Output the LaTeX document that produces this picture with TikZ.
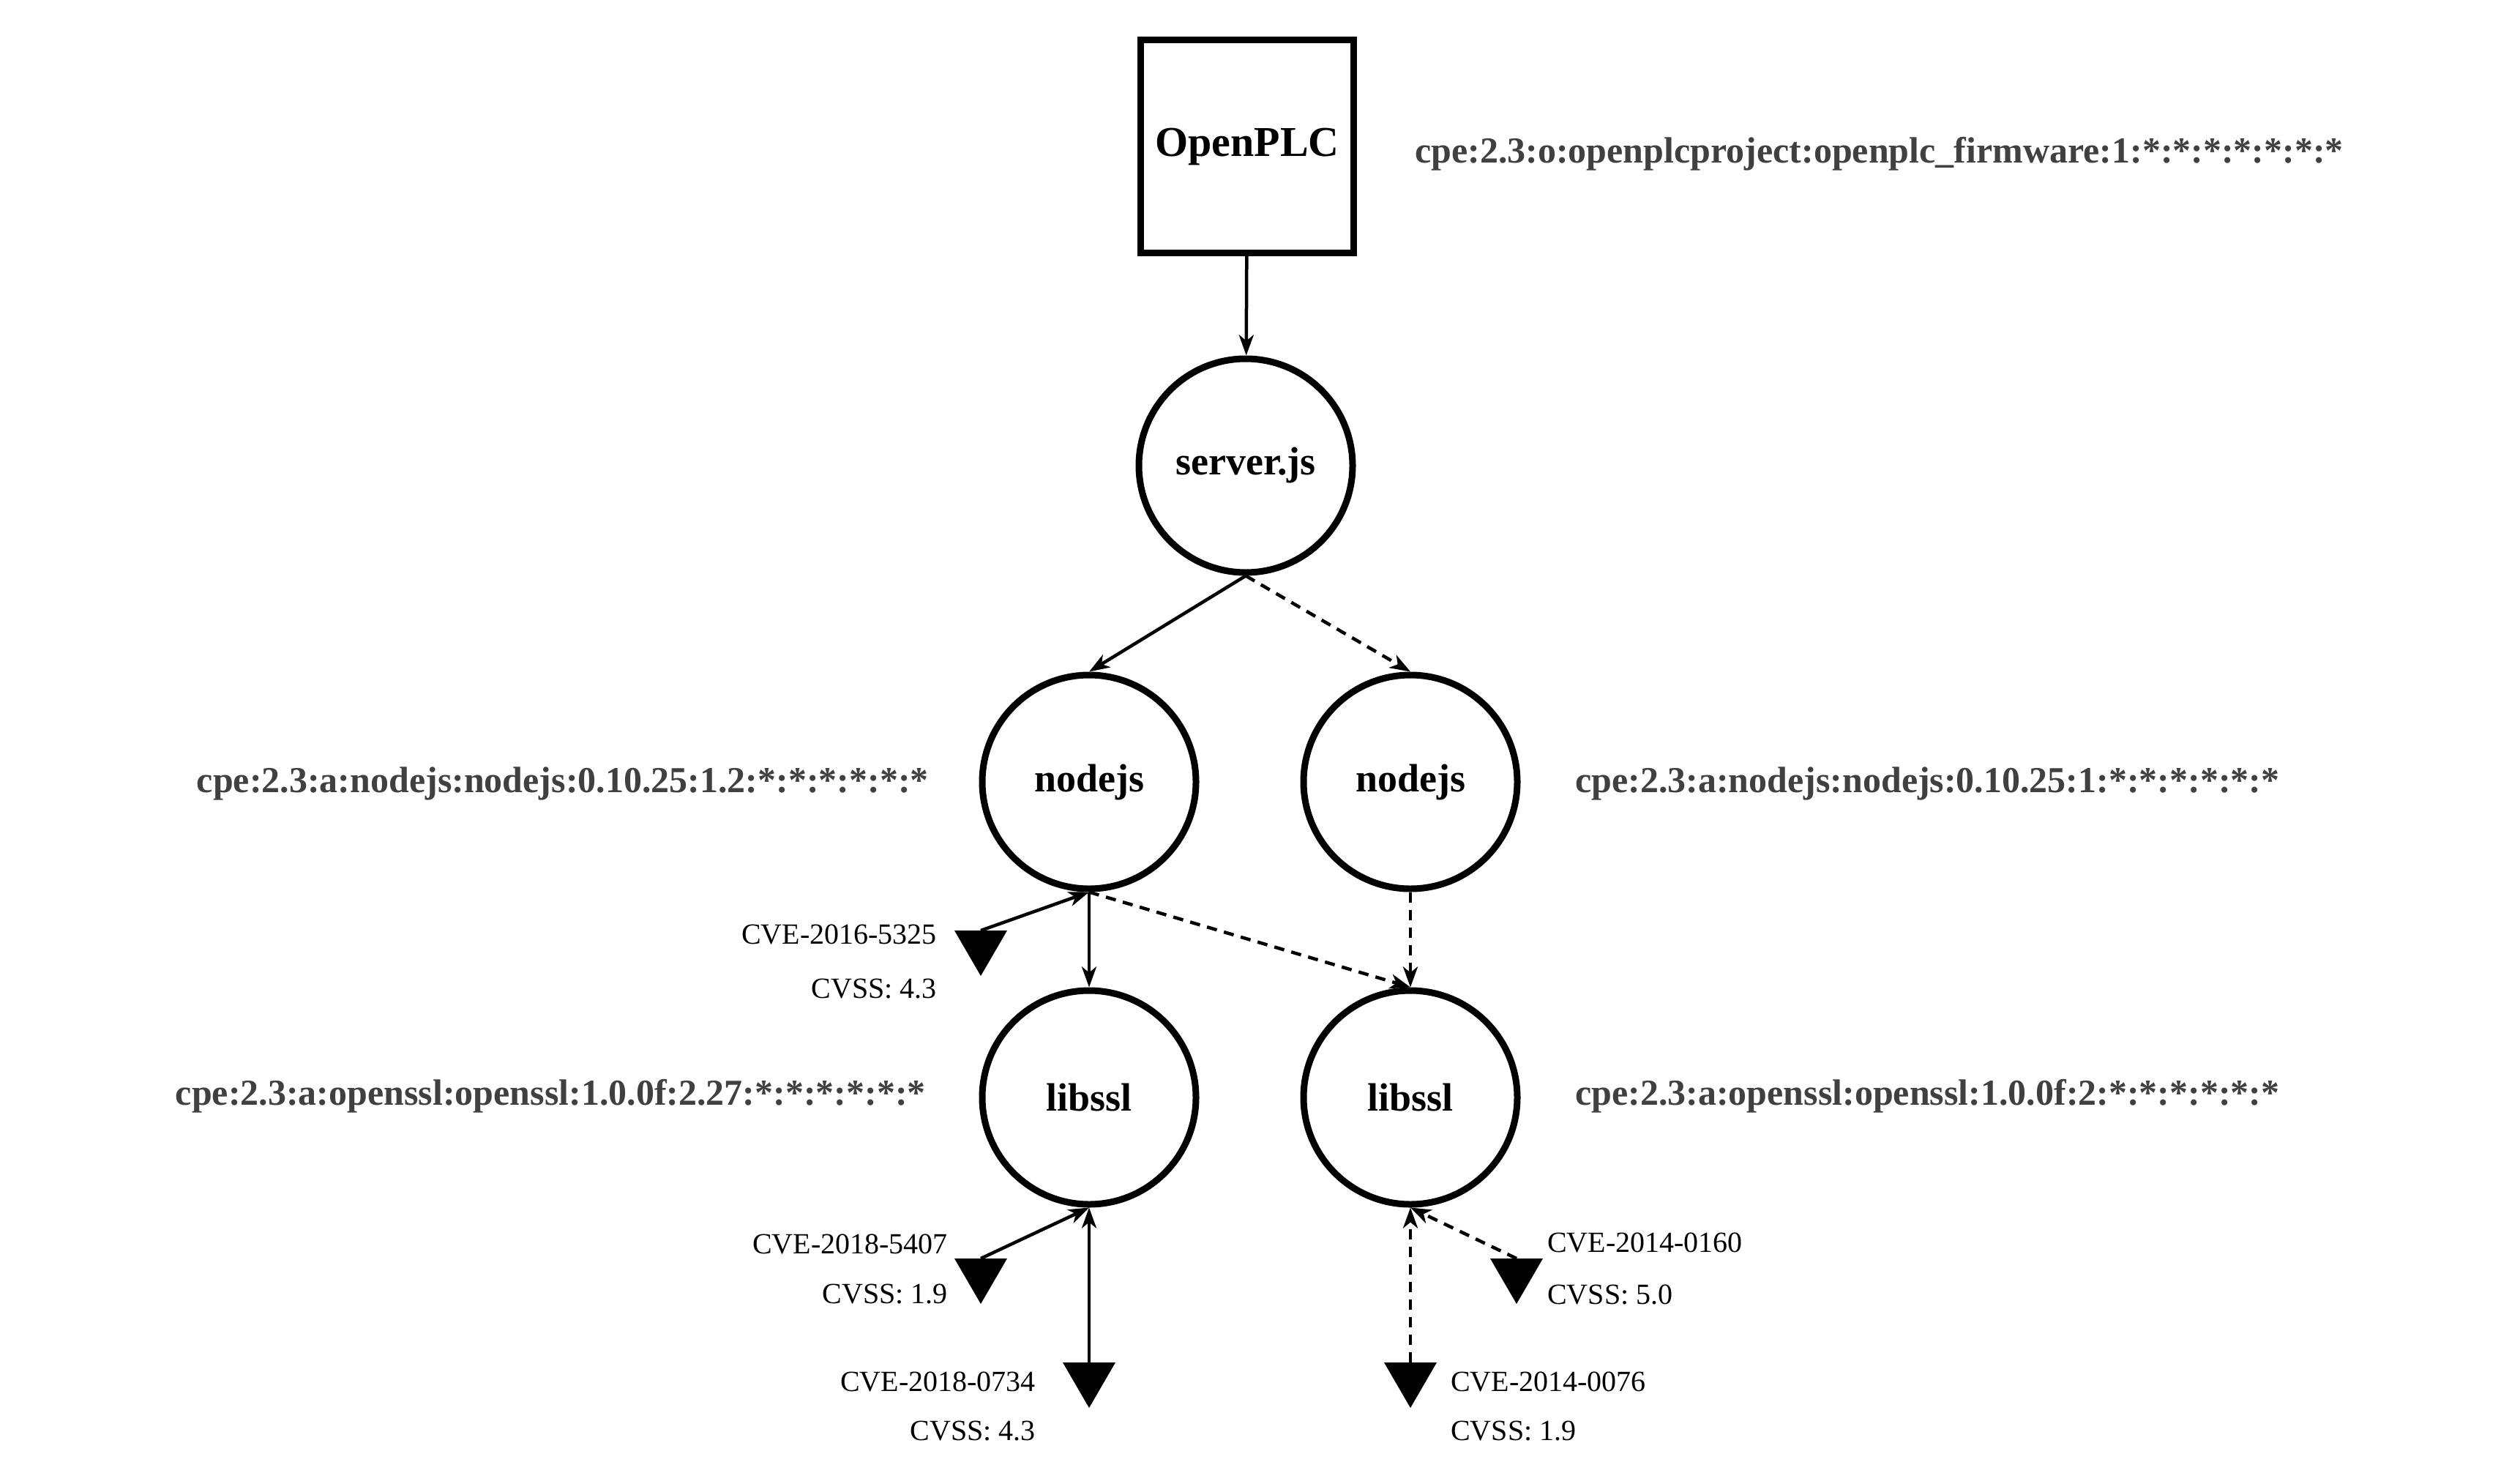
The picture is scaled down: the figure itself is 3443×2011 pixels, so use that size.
\documentclass[tikz,border=0pt]{standalone}
\usepackage{fontspec}
\setmainfont{Liberation Serif}
\usetikzlibrary{arrows.meta}
\definecolor{cpegray}{HTML}{404040}
\begin{document}
\begin{tikzpicture}[x=1pt,y=-1pt,
  comp/.style={circle,draw,line width=9pt,minimum size=292pt,inner sep=0pt,font=\fontsize{54}{60}\selectfont\bfseries},
  cpe/.style={text=cpegray,font=\fontsize{50}{56}\selectfont\bfseries,inner sep=0pt},
  cve/.style={font=\fontsize{40}{46}\selectfont,inner sep=0pt},
  conn/.style={line width=4.5pt,-{Stealth[length=28pt,width=20pt,inset=8pt]}},
  dconn/.style={conn,dash pattern=on 14pt off 10pt},
  tri/.style={fill=black}]
\useasboundingbox (0,0) rectangle (3443,2011);
\node[draw,line width=9pt,minimum size=291pt,inner sep=0pt,font=\fontsize{58}{64}\selectfont\bfseries] (plc) at (1704,200) {OpenPLC};
\node[cpe,anchor=west] (cpe0) at (1933,210) {cpe:2.3:o:openplcproject:openplc\_firmware:1:*:*:*:*:*:*:*};
\node[comp] (srv) at (1702,636) {server.js};
\node[comp] (nl) at (1488,1068) {nodejs};
\node[comp] (nr) at (1927,1068) {nodejs};
\node[comp] (ll) at (1488,1499) {libssl};
\node[comp] (lr) at (1927,1499) {libssl};
\node[cpe,anchor=east] (cpe1) at (1269,1070) {cpe:2.3:a:nodejs:nodejs:0.10.25:1.2:*:*:*:*:*:*};
\node[cpe,anchor=west] (cpe2) at (2152,1070) {cpe:2.3:a:nodejs:nodejs:0.10.25:1:*:*:*:*:*:*};
\node[cpe,anchor=east] (cpe3) at (1265,1497) {cpe:2.3:a:openssl:openssl:1.0.0f:2.27:*:*:*:*:*:*};
\node[cpe,anchor=west] (cpe4) at (2152,1497) {cpe:2.3:a:openssl:openssl:1.0.0f:2:*:*:*:*:*:*};
\draw[conn] (plc) -- (srv);
\draw[conn] (srv.south) -- (nl.north);
\draw[dconn] (srv.south) -- (nr.north);
\draw[conn] (nl.south) -- (ll.north);
\draw[dconn] (nl.south) -- (lr.north);
\draw[dconn] (nr.south) -- (lr.north);
% triangles
\foreach \n/\x/\y in {t1/1340/1302,t2/1340/1750,t3/1488/1892,t4/2072/1750,t5/1927/1892}{
  \fill[tri] (\x-36,\y-31) -- (\x+36,\y-31) -- (\x,\y+31) -- cycle;
  \coordinate (\n) at (\x,\y-31);
}
\draw[conn] (t1) -- (nl.south);
\draw[conn] (t2) -- (ll.south);
\draw[conn] (t3) -- (ll.south);
\draw[dconn] (t4) -- (lr.south);
\draw[dconn] (t5) -- (lr.south);
\node[cve,anchor=east] (c1a) at (1280,1276) {CVE-2016-5325};
\node[cve,anchor=east] (c1b) at (1280,1351) {CVSS: 4.3};
\node[cve,anchor=east] (c2a) at (1295,1699) {CVE-2018-5407};
\node[cve,anchor=east] (c2b) at (1295,1768) {CVSS: 1.9};
\node[cve,anchor=east] (c3a) at (1415,1887) {CVE-2018-0734};
\node[cve,anchor=east] (c3b) at (1415,1955) {CVSS: 4.3};
\node[cve,anchor=west] (c4a) at (2114,1697) {CVE-2014-0160};
\node[cve,anchor=west] (c4b) at (2114,1768) {CVSS: 5.0};
\node[cve,anchor=west] (c5a) at (1982,1887) {CVE-2014-0076};
\node[cve,anchor=west] (c5b) at (1982,1955) {CVSS: 1.9};
\end{tikzpicture}
\end{document}
